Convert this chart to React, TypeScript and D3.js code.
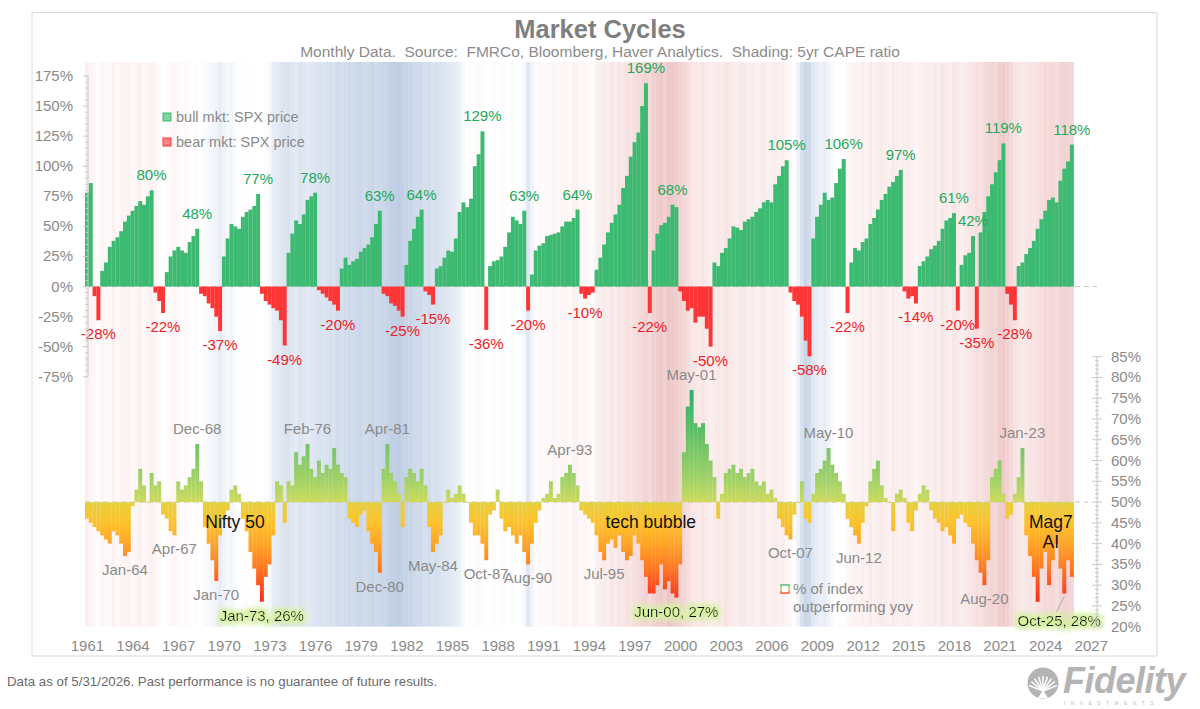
import * as d3 from 'd3';

// first bar = Q3 1961, one value per quarter after that
const FIRST_QUARTER = 1961.5;
const Q = 0.25;

// SPX move inside the running bull (+) or bear (-) market, % (quarterly)
const spxCycle: number[] = [
  78, 86, // 1961 Q3-Q4
  -8, -28, 13, 20, // 1962
  33, 38, 41, 46, // 1963
  54, 59, 63, 67, // 1964
  71, 68, 75, 80, // 1965
  -5, -12, -22, 12, // 1966
  25, 30, 33, 30, // 1967
  28, 37, 42, 48, // 1968
  -6, -8, -14, -18, // 1969
  -25, -37, 25, 40, // 1970
  52, 50, 48, 58, // 1971
  62, 64, 67, 77, // 1972
  -6, -12, -15, -18, // 1973
  -20, -28, -49, 28, // 1974
  44, 55, 52, 60, // 1975
  72, 75, 78, -3, // 1976
  -6, -9, -12, -15, // 1977
  -20, 15, 24, 18, // 1978
  21, 23, 29, 32, // 1979
  35, 41, 52, 63, // 1980
  -6, -8, -14, -16, // 1981
  -20, -25, 18, 38, // 1982
  48, 58, 64, -4, // 1983
  -7, -15, 15, 17, // 1984
  24, 30, 29, 40, // 1985
  62, 70, 66, 73, // 1986
  100, 110, 129, -36, // 1987
  17, 21, 22, 25, // 1988
  33, 45, 58, 55, // 1989
  52, 63, -20, 10, // 1990
  30, 34, 36, 42, // 1991
  43, 44, 45, 50, // 1992
  54, 54, 57, 64, // 1993
  -6, -10, -7, -5, // 1994
  14, 24, 35, 45, // 1995
  53, 60, 68, 82, // 1996
  92, 108, 120, 128, // 1997
  150, 169, -22, 30, // 1998
  44, 51, 53, 58, // 1999
  68, 66, -4, -12, // 2000
  -20, -18, -30, -25, // 2001
  -25, -35, -50, 20, // 2002
  17, 28, 32, 40, // 2003
  50, 49, 47, 54, // 2004
  56, 58, 62, 65, // 2005
  70, 72, 70, 85, // 2006
  92, 100, 105, -5, // 2007
  -12, -15, -25, -45, // 2008
  -58, 40, 58, 68, // 2009
  78, 72, 74, 86, // 2010
  98, 106, -22, 20, // 2011
  32, 30, 37, 40, // 2012
  52, 57, 64, 72, // 2013
  77, 83, 87, 92, // 2014
  97, -4, -10, -8, // 2015
  -14, 17, 21, 25, // 2016
  31, 34, 38, 48, // 2017
  55, 57, 61, -20, // 2018
  18, 26, 28, 42, // 2019
  -35, 45, 62, 75, // 2020
  85, 95, 105, 119, // 2021
  -6, -15, -28, 17, // 2022
  20, 27, 32, 38, // 2023
  48, 56, 63, 72, // 2024
  74, 70, 88, 98, // 2025
  104, 118, // 2026 Q1-Q2
];

// % of index outperforming the index yoy (quarterly)
const breadth: number[] = [
  46, 45, // 1961
  44, 43, 42, 41, // 1962
  40, 43, 42, 40, // 1963
  37, 38, 49, 53, // 1964
  58, 54, 50, 57, // 1965
  54, 55, 47, 46, // 1966
  43, 42, 55, 53, // 1967
  54, 56, 58, 64, // 1968
  55, 44, 40, 36, // 1969
  31, 42, 46, 48, // 1970
  53, 54, 52, 46, // 1971
  43, 38, 34, 30, // 1972
  26, 32, 35, 42, // 1973
  55, 54, 45, 55, // 1974
  54, 62, 59, 61, // 1975
  64, 58, 56, 60, // 1976
  57, 59, 58, 63, // 1977
  59, 57, 56, 46, // 1978
  45, 44, 47, 48, // 1979
  43, 40, 38, 33, // 1980
  58, 64, 57, 55, // 1981
  52, 44, 56, 58, // 1982
  57, 55, 58, 54, // 1983
  44, 38, 40, 42, // 1984
  50, 53, 51, 52, // 1985
  54, 52, 50, 45, // 1986
  42, 42, 40, 36, // 1987
  47, 48, 53, 46, // 1988
  43, 44, 42, 40, // 1989
  42, 38, 35, 40, // 1990
  45, 48, 51, 52, // 1991
  55, 51, 52, 56, // 1992
  57, 59, 57, 54, // 1993
  48, 47, 46, 45, // 1994
  42, 38, 36, 40, // 1995
  41, 39, 42, 38, // 1996
  36, 37, 42, 40, // 1997
  36, 32, 28, 28, // 1998
  30, 35, 29, 31, // 1999
  28, 27, 35, 62, // 2000
  73, 77, 69, 68, // 2001
  69, 64, 60, 56, // 2002
  46, 52, 57, 58, // 2003
  59, 57, 58, 56, // 2004
  57, 58, 55, 54, // 2005
  55, 52, 53, 51, // 2006
  46, 44, 42, 41, // 2007
  47, 50, 55, 46, // 2008
  45, 52, 57, 58, // 2009
  60, 63, 59, 57, // 2010
  55, 52, 46, 44, // 2011
  42, 40, 45, 49, // 2012
  55, 58, 60, 54, // 2013
  51, 50, 43, 52, // 2014
  53, 51, 45, 43, // 2015
  48, 52, 54, 53, // 2016
  48, 46, 45, 43, // 2017
  44, 42, 40, 46, // 2018
  47, 45, 44, 40, // 2019
  36, 33, 30, 36, // 2020
  56, 58, 60, 52, // 2021
  46, 47, 52, 56, // 2022
  63, 42, 37, 32, // 2023
  26, 34, 38, 30, // 2024
  36, 40, 34, 28, // 2025
  36, 32, // 2026
];

// 5yr CAPE shading: -1 cheap (blue) .. +1 rich (red), quarterly
const capeTilt: number[] = [
  0.25, 0.15, // 1961
  0.1, 0.05, 0.15, 0.1, // 1962
  0.1, 0.2, 0.1, 0.15, // 1963
  0.15, 0.2, 0.1, 0.15, // 1964
  0.2, 0.1, 0.15, 0.2, // 1965
  0.15, 0.05, 0.0, 0.05, // 1966
  0.1, 0.15, 0.1, 0.05, // 1967
  0.1, 0.05, 0.0, 0.05, // 1968
  0.0, -0.05, -0.1, -0.15, // 1969
  -0.2, -0.3, -0.2, -0.1, // 1970
  -0.15, -0.05, 0.0, 0.05, // 1971
  0.05, 0.0, 0.05, 0.0, // 1972
  0.0, -0.05, -0.1, -0.3, // 1973
  -0.35, -0.4, -0.45, -0.5, // 1974
  -0.4, -0.35, -0.45, -0.4, // 1975
  -0.35, -0.4, -0.45, -0.5, // 1976
  -0.45, -0.5, -0.55, -0.5, // 1977
  -0.6, -0.55, -0.6, -0.65, // 1978
  -0.6, -0.65, -0.7, -0.6, // 1979
  -0.65, -0.7, -0.6, -0.65, // 1980
  -0.7, -0.75, -0.8, -0.8, // 1981
  -0.85, -0.8, -0.75, -0.7, // 1982
  -0.65, -0.6, -0.6, -0.55, // 1983
  -0.6, -0.5, -0.55, -0.5, // 1984
  -0.45, -0.4, -0.35, -0.3, // 1985
  -0.25, -0.1, 0.0, 0.05, // 1986
  0.05, 0.1, 0.05, 0.0, // 1987
  0.0, -0.05, 0.0, 0.05, // 1988
  0.05, 0.0, -0.05, 0.0, // 1989
  0.0, -0.1, -0.4, -0.2, // 1990
  0.05, 0.1, 0.05, 0.1, // 1991
  0.1, 0.15, 0.1, 0.15, // 1992
  0.15, 0.1, 0.2, 0.15, // 1993
  0.1, 0.15, 0.1, 0.05, // 1994
  0.2, 0.25, 0.3, 0.25, // 1995
  0.35, 0.3, 0.4, 0.35, // 1996
  0.45, 0.4, 0.5, 0.55, // 1997
  0.6, 0.65, 0.55, 0.7, // 1998
  0.75, 0.8, 0.7, 0.85, // 1999
  0.8, 0.75, 0.7, 0.6, // 2000
  0.5, 0.4, 0.35, 0.3, // 2001
  0.4, 0.3, 0.25, 0.3, // 2002
  0.35, 0.3, 0.4, 0.35, // 2003
  0.3, 0.25, 0.35, 0.3, // 2004
  0.25, 0.3, 0.2, 0.25, // 2005
  0.3, 0.2, 0.25, 0.3, // 2006
  0.2, 0.25, 0.15, 0.1, // 2007
  0.0, -0.2, -0.5, -0.7, // 2008
  -0.6, -0.4, -0.3, -0.25, // 2009
  -0.3, -0.2, -0.1, 0.0, // 2010
  0.05, 0.0, 0.1, 0.15, // 2011
  0.2, 0.15, 0.25, 0.2, // 2012
  0.3, 0.2, 0.25, 0.3, // 2013
  0.25, 0.2, 0.3, 0.25, // 2014
  0.2, 0.25, 0.3, 0.2, // 2015
  0.15, 0.2, 0.25, 0.3, // 2016
  0.25, 0.3, 0.25, 0.35, // 2017
  0.3, 0.25, 0.35, 0.3, // 2018
  0.25, 0.3, 0.35, 0.4, // 2019
  0.5, 0.45, 0.55, 0.6, // 2020
  0.65, 0.6, 0.75, 0.8, // 2021
  0.7, 0.55, 0.45, 0.35, // 2022
  0.3, 0.35, 0.4, 0.35, // 2023
  0.45, 0.5, 0.6, 0.55, // 2024
  0.6, 0.5, 0.65, 0.7, // 2025
  0.65, 0.6, // 2026
];

const yearTicks = d3.range(1961, 2028, 3);
const leftTicks = d3.range(-75, 176, 25);
const rightTicks = d3.range(20, 86, 5);

// dated breadth extremes that get a label
const breadthNotes = [
  { date: '1964-01', side: 'below' },
  { date: '1967-04', side: 'below' },
  { date: '1968-12', side: 'above' },
  { date: '1970-01', side: 'below' },
  { date: '1973-01', side: 'below', highlight: true },
  { date: '1976-02', side: 'above' },
  { date: '1980-12', side: 'below' },
  { date: '1981-04', side: 'above' },
  { date: '1984-05', side: 'below' },
  { date: '1987-10', side: 'below' },
  { date: '1990-08', side: 'below' },
  { date: '1993-04', side: 'above' },
  { date: '1995-07', side: 'below' },
  { date: '2000-06', side: 'below', highlight: true },
  { date: '2001-05', side: 'above' },
  { date: '2007-10', side: 'below' },
  { date: '2010-05', side: 'above' },
  { date: '2012-06', side: 'below' },
  { date: '2020-08', side: 'below' },
  { date: '2023-01', side: 'above' },
  { date: '2025-10', side: 'below', highlight: true, leader: true },
];

// black theme notes, placed by date and breadth level
const themeNotes = [
  { text: 'Nifty 50', date: 1971.36, level: 43.7 },
  { text: 'tech bubble', date: 1998.7, level: 43.7 },
  { text: 'Mag7', date: 2025.0, level: 43.7 },
  { text: 'AI', date: 2025.0, level: 38.9 },
];

const FONT = '"Liberation Sans", Arial, Helvetica, sans-serif';
const GREEN = '#3dba71';
const RED = '#ff3535';
const GREY = '#8a8a8a';

const x = d3.scaleLinear().domain([1961, 2027]).range([77.4, 1081.3]);
const yTop = d3.scaleLinear().domain([-75, 175]).range([376.8, 76]);
const yBot = d3.scaleLinear().domain([20, 85]).range([626.7, 356.7]);
const capeColor = d3
  .scaleLinear<string>()
  .domain([-1, 0, 0.2, 1])
  .range(['#b2c4de', '#ffffff', '#fcf1f1', '#ebbdbd'])
  .clamp(true);

const breadthStops: [number, string][] = [
  [78, '#25ae69'],
  [70, '#4cba69'],
  [62, '#7cc769'],
  [55, '#a4d268'],
  [50.5, '#c9da5e'],
  [49.5, '#e8cf3c'],
  [45, '#fdc22b'],
  [40, '#ffa526'],
  [34, '#ff7822'],
  [28, '#ff3d1d'],
  [24, '#ff2618'],
];

const qStart = (i: number) => FIRST_QUARTER + i * Q;
const qLeft = (i: number) => x(qStart(i));
const qWidth = (i: number) => x(qStart(i + 1)) - x(qStart(i));
const qMid = (i: number) => x(qStart(i) + Q / 2);
const parseYm = (s: string) => {
  const [yy, mm] = s.split('-').map(Number);
  return { t: yy + (mm - 1) / 12, d: new Date(yy, mm - 1, 1) };
};
const fmtMonth = d3.timeFormat('%b-%y');

interface Run {
  sign: number;
  peak: number;
  peakIdx: number;
}

const runs: Run[] = [];
spxCycle.forEach((v, i) => {
  const s = Math.sign(v);
  const last = runs[runs.length - 1];
  if (last && last.sign === s) {
    if (Math.abs(v) > Math.abs(last.peak)) {
      last.peak = v;
      last.peakIdx = i;
    }
  } else {
    runs.push({ sign: s, peak: v, peakIdx: i });
  }
});

const PLOT_TOP = 62;
const PLOT_BOTTOM = yBot(20);
const Y_LABEL_NUDGE = 10; // year labels sit a bit right of Jan 1

const Glow = () => (
  <filter id="glow" x="-20%" y="-60%" width="140%" height="220%">
    <feMorphology operator="dilate" radius="3" in="SourceAlpha" result="d" />
    <feGaussianBlur in="d" stdDeviation="2.6" result="b" />
    <feFlood floodColor="#d6f1a2" />
    <feComposite in2="b" operator="in" result="g" />
    <feMerge>
      <feMergeNode in="g" />
      <feMergeNode in="SourceGraphic" />
    </feMerge>
  </filter>
);

const FidelityLogo = () => {
  const rays = d3.range(9).map((k) => -Math.PI * (0.12 + k * 0.095));
  return (
    <g fill="#b4b4b4">
      <g transform="translate(1043,683)">
        <circle r={15.5} />
        {rays.map((a, k) => (
          <line
            key={k}
            x1={0}
            y1={8}
            x2={15 * Math.cos(a)}
            y2={8 + 15 * Math.sin(a)}
            stroke="#fff"
            strokeWidth={1.5}
          />
        ))}
        <path d="M-5,15 L0,7 L5,15 Z" fill="#fff" />
      </g>
      <text
        x={1063}
        y={693}
        fontFamily={FONT}
        fontSize={36}
        fontWeight="bold"
        fontStyle="italic"
        letterSpacing={-0.5}
      >
        Fidelity
      </text>
      <text x={1064} y={705} fontFamily={FONT} fontSize={5} letterSpacing={5.4} fill="#bdbdbd">
        INVESTMENTS
      </text>
    </g>
  );
};

export default function App() {
  const gradTop = yBot(78);
  const gradBottom = yBot(24);

  return (
    <svg
      width={1200}
      height={709}
      style={{ position: 'absolute', left: 0, top: 0, display: 'block', background: '#fff' }}
      fontFamily={FONT}
    >
      <defs>
        <linearGradient
          id="breadthFill"
          gradientUnits="userSpaceOnUse"
          x1={0}
          x2={0}
          y1={gradTop}
          y2={gradBottom}
        >
          {breadthStops.map(([v, c]) => (
            <stop key={v} offset={(yBot(v) - gradTop) / (gradBottom - gradTop)} stopColor={c} />
          ))}
        </linearGradient>
        <linearGradient id="legendEdge" x1={0} x2={0} y1={0} y2={1}>
          <stop offset={0} stopColor="#3dba71" />
          <stop offset={0.5} stopColor="#c9da5e" />
          <stop offset={1} stopColor="#ff3d1d" />
        </linearGradient>
        <Glow />
      </defs>

      {/* frame */}
      <rect x={32} y={12.5} width={1125} height={643.5} fill="#fff" stroke="#d9d9d9" />

      {/* CAPE shading */}
      <g>
        {capeTilt.map((v, i) => (
          <rect
            key={i}
            x={qLeft(i)}
            y={PLOT_TOP}
            width={qWidth(i) + 0.3}
            height={PLOT_BOTTOM - PLOT_TOP}
            fill={capeColor(v)}
          />
        ))}
      </g>

      {/* title */}
      <text x={600} y={38} textAnchor="middle" fontSize={25.5} fontWeight="bold" fill="#7f7f7f">
        Market Cycles
      </text>
      <text
        x={600}
        y={57}
        textAnchor="middle"
        fontSize={15.5}
        fill="#8c8c8c"
        style={{ whiteSpace: 'pre' }}
      >
        {'Monthly Data.  Source:  FMRCo, Bloomberg, Haver Analytics.  Shading: 5yr CAPE ratio'}
      </text>

      {/* reference lines */}
      <line
        x1={qLeft(0)}
        x2={1097}
        y1={yTop(0)}
        y2={yTop(0)}
        stroke="#c4c4c4"
        strokeDasharray="5,4"
      />
      <line
        x1={qLeft(0)}
        x2={1088}
        y1={yBot(50)}
        y2={yBot(50)}
        stroke="#c4c4c4"
        strokeDasharray="5,4"
      />

      {/* bull / bear bars */}
      <g>
        {spxCycle.map((v, i) => (
          <rect
            key={i}
            x={qLeft(i)}
            width={qWidth(i) + 0.15}
            y={Math.min(yTop(v), yTop(0))}
            height={Math.abs(yTop(v) - yTop(0))}
            fill={v >= 0 ? GREEN : RED}
          />
        ))}
      </g>

      {/* breadth bars */}
      <g>
        {breadth.map((v, i) => (
          <rect
            key={i}
            x={qLeft(i)}
            width={qWidth(i) + 0.15}
            y={Math.min(yBot(v), yBot(50))}
            height={Math.max(0.8, Math.abs(yBot(v) - yBot(50)))}
            fill="url(#breadthFill)"
          />
        ))}
      </g>

      {/* cycle labels */}
      <g fontSize={15} textAnchor="middle">
        {runs.slice(1).map((r, k) => (
          <text
            key={k}
            x={qMid(r.peakIdx)}
            y={r.sign > 0 ? yTop(r.peak) - 10 : yTop(r.peak) + 19}
            fill={r.sign > 0 ? '#23a85c' : '#ee1c24'}
          >
            {`${Math.round(r.peak)}%`}
          </text>
        ))}
      </g>

      {/* breadth labels */}
      <g fontSize={15} textAnchor="middle">
        {breadthNotes.map((n) => {
          const { t, d } = parseYm(n.date);
          const i = Math.floor((t - FIRST_QUARTER) / Q);
          const v = breadth[i];
          const cx = qMid(i);
          const yv = yBot(v);
          if (n.highlight) {
            const dx = n.leader ? -5 : 0;
            const dy = n.leader ? 33 : 19;
            return (
              <g key={n.date}>
                {n.leader && (
                  <line x1={cx} y1={yv + 3} x2={cx + dx - 3} y2={yv + dy - 14} stroke="#aaa" />
                )}
                <text x={cx + dx} y={yv + dy} fill="#111" filter="url(#glow)">
                  {`${fmtMonth(d)}, ${v}%`}
                </text>
              </g>
            );
          }
          return (
            <text key={n.date} x={cx} y={n.side === 'above' ? yv - 10 : yv + 19} fill={GREY}>
              {fmtMonth(d)}
            </text>
          );
        })}
      </g>

      {/* theme notes */}
      <g fontSize={17.5} textAnchor="middle" fill="#111">
        {themeNotes.map((n) => (
          <text key={n.text} x={x(n.date)} y={yBot(n.level)}>
            {n.text}
          </text>
        ))}
      </g>

      {/* legends */}
      <g fontSize={14.5} fill={GREY}>
        <rect x={163} y={113} width={8} height={8} fill="#7fd4a2" stroke={GREEN} />
        <text x={176} y={122}>
          bull mkt: SPX price
        </text>
        <rect x={163} y={138} width={8} height={8} fill="#ff8585" stroke={RED} />
        <text x={176} y={147}>
          bear mkt: SPX price
        </text>
        <rect x={781} y={585} width={8} height={8} fill="#fff" stroke="url(#legendEdge)" strokeWidth={1.4} />
        <text x={793} y={594} fontSize={15}>
          % of index
        </text>
        <text x={793} y={612} fontSize={15}>
          outperforming yoy
        </text>
      </g>

      {/* left axis */}
      <g stroke="#c8c8c8">
        <line x1={88} x2={88} y1={yTop(175)} y2={yTop(-75)} />
        {d3.range(-75, 176, 5).map((v) => (
          <line key={v} x1={v % 25 === 0 ? 83 : 85.5} x2={88} y1={yTop(v)} y2={yTop(v)} />
        ))}
      </g>
      <g fontSize={15} fill={GREY} textAnchor="end">
        {leftTicks.map((v) => (
          <text key={v} x={73} y={yTop(v) + 5}>
            {`${v}%`}
          </text>
        ))}
      </g>

      {/* right axis */}
      <g stroke="#c8c8c8">
        <line x1={1097} x2={1097} y1={yBot(85)} y2={yBot(20)} />
        {d3.range(20, 86, 1).map((v) => (
          <line
            key={v}
            x1={v % 5 === 0 ? 1092 : 1095}
            x2={v % 5 === 0 ? 1102 : 1099}
            y1={yBot(v)}
            y2={yBot(v)}
          />
        ))}
      </g>
      <g fontSize={15} fill={GREY}>
        {rightTicks.map((v) => (
          <text key={v} x={1111} y={yBot(v) + 5}>
            {`${v}%`}
          </text>
        ))}
      </g>

      {/* year labels */}
      <g fontSize={15} fill={GREY} textAnchor="middle">
        {yearTicks.map((yr) => (
          <text key={yr} x={x(yr) + Y_LABEL_NUDGE} y={651}>
            {yr}
          </text>
        ))}
      </g>

      {/* footer */}
      <text x={7} y={686} fontSize={13.3} fill="#6b6b6b">
        Data as of 5/31/2026. Past performance is no guarantee of future results.
      </text>
      <FidelityLogo />
    </svg>
  );
}
